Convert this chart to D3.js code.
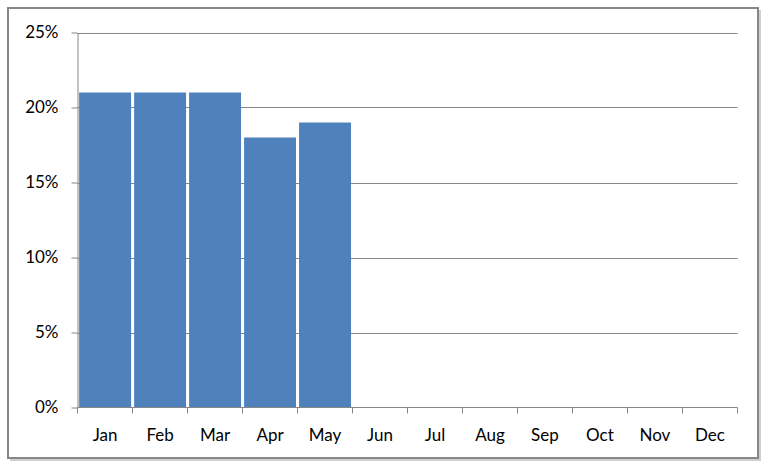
<!DOCTYPE html>
<html><head><meta charset="utf-8">
<script src="https://cdn.jsdelivr.net/npm/d3@7"></script>
<style>body{margin:0;background:#fff}svg{display:block}text{font-family:Lato,"Open Sans",sans-serif;fill:#000}</style>
</head><body><svg id="c" width="768" height="468"></svg>
<script>
const months = ["Jan","Feb","Mar","Apr","May","Jun","Jul","Aug","Sep","Oct","Nov","Dec"];
const values = [0.21,0.21,0.21,0.18,0.19,null,null,null,null,null,null,null];
const yTicks = [0,0.05,0.10,0.15,0.20,0.25];

const svg = d3.select("#c");
const L=77.5, R=737.5, T=32.5, B=407.5;
// frame with shadow
svg.append("rect").attr("x",10).attr("y",10).attr("width",751).attr("height",451).attr("fill","#d0d0d0");
svg.append("rect").attr("x",8).attr("y",8).attr("width",750).attr("height",450).attr("fill","#fff").attr("stroke","#868686").attr("stroke-width",2);

const x = d3.scaleBand().domain(months).range([L,R]).paddingInner(0.055).paddingOuter(0.03);
const y = d3.scaleLinear().domain([0,0.25]).range([B,T]);

// gridlines
svg.append("g").selectAll("line").data(yTicks.slice(1)).join("line")
  .attr("x1",L).attr("x2",R).attr("y1",d=>Math.round(y(d))+0.5).attr("y2",d=>Math.round(y(d))+0.5)
  .attr("stroke","#868686").attr("stroke-width",1);

// bars
svg.append("g").selectAll("rect").data(months.map((m,i)=>({m,v:values[i]})).filter(d=>d.v!=null)).join("rect")
  .attr("x",d=>x(d.m)).attr("width",x.bandwidth())
  .attr("y",d=>y(d.v)).attr("height",d=>y(0)-y(d.v)).attr("fill","#4F81BD");

// y axis
const ya = svg.append("g").attr("transform",`translate(${L},0)`)
  .call(d3.axisLeft(y).tickValues(yTicks).tickFormat(d3.format(".0%")).tickSizeInner(6).tickSizeOuter(0).tickPadding(13));
ya.selectAll("path,line").attr("stroke","#868686");
ya.selectAll("text").style("font-size","17px").attr("fill","#000");

// x axis
const xa = svg.append("g").attr("transform",`translate(0,${B})`);
xa.append("line").attr("x1",L).attr("x2",R).attr("stroke","#868686");
const bounds = d3.range(13).map(i=>L+i*(R-L)/12);
xa.selectAll("line.t").data(bounds).join("line").attr("class","t")
  .attr("x1",d=>d).attr("x2",d=>d).attr("y1",0).attr("y2",6).attr("stroke","#868686");
xa.selectAll("text").data(months).join("text")
  .attr("x",d=>x(d)+x.bandwidth()/2).attr("y",33).attr("text-anchor","middle")
  .style("font-size","17px").text(d=>d);
</script></body></html>
